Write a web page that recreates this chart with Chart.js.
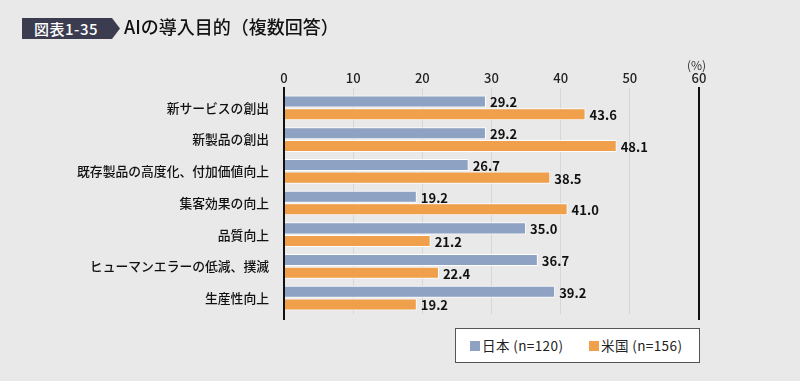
<!DOCTYPE html>
<html lang="ja">
<head>
    <meta charset="UTF-8">
    <title>AIの導入目的</title>
    <script src="https://cdn.jsdelivr.net/npm/chart.js"></script>
    <style>
        html, body {
            margin: 0;
            padding: 0;
            width: 800px;
            height: 381px;
            background: #e9e9e9;
            font-family: "Noto Sans CJK JP", "Noto Sans", sans-serif;
            overflow: hidden;
        }
        .wrap {
            position: relative;
            width: 800px;
            height: 381px;
        }
        #chart {
            position: absolute;
            left: 0;
            top: 0;
        }
        .badge {
            position: absolute;
            left: 22px;
            top: 18px;
            height: 21px;
            width: 98px;
            background: #3b3c50;
            color: #fff;
            font-size: 15px;
            font-weight: 500;
            line-height: 21px;
            padding-left: 12px;
            letter-spacing: 0.5px;
            box-sizing: border-box;
            clip-path: polygon(0 0, 90px 0, 98px 50%, 90px 100%, 0 100%);
        }
        .title {
            position: absolute;
            left: 124px;
            top: 13px;
            font-size: 18px;
            font-weight: 500;
            color: #111;
        }
        .unit {
            position: absolute;
            left: 687px;
            top: 56px;
            font-size: 12px;
            color: #333;
        }
        .legend {
            position: absolute;
            left: 455px;
            top: 328px;
            width: 245px;
            height: 35px;
            box-sizing: border-box;
            background: #fff;
            border: 1px solid #555;
            font-size: 13.5px;
            color: #222;
            letter-spacing: 0.4px;
        }
        .legend span.sw {
            position: absolute;
            top: 12px;
            width: 10px;
            height: 10px;
        }
        .legend span.tx {
            position: absolute;
            top: 7px;
            line-height: 18px;
        }
    </style>
</head>
<body>
<div class="wrap">
    <canvas id="chart" width="800" height="381"></canvas>
    <div class="badge">図表1-35</div>
    <div class="title">AIの導入目的（複数回答）</div>
    <div class="unit">(%)</div>
    <div class="legend">
        <span class="sw" style="left:14px;background:#8ea3c3"></span>
        <span class="tx" style="left:26px">日本 (n=120)</span>
        <span class="sw" style="left:133px;background:#f0a04a"></span>
        <span class="tx" style="left:145px">米国 (n=156)</span>
    </div>
</div>

<script>
    // data
    const categories = ['新サービスの創出', '新製品の創出', '既存製品の高度化、付加価値向上',
        '集客効果の向上', '品質向上', 'ヒューマンエラーの低減、撲滅', '生産性向上'];
    const japan = [29.2, 29.2, 26.7, 19.2, 35.0, 36.7, 39.2];
    const usa = [43.6, 48.1, 38.5, 41.0, 21.2, 22.4, 19.2];
    const tickValues = [0, 10, 20, 30, 40, 50, 60];

    const blue = '#8ea3c3';
    const orange = '#f0a04a';

    // value labels at the end of each bar
    const valueLabels = {
        id: 'valueLabels',
        afterDatasetsDraw(chart) {
            const ctx = chart.ctx;
            ctx.save();
            ctx.font = 'bold 13px "Noto Sans CJK JP", "Noto Sans", sans-serif';
            ctx.fillStyle = '#111';
            ctx.textBaseline = 'middle';
            ctx.textAlign = 'left';
            chart.data.datasets.forEach((ds, i) => {
                chart.getDatasetMeta(i).data.forEach((bar, j) => {
                    ctx.fillText(ds.data[j].toFixed(1), bar.x + 4, bar.y + 1);
                });
            });
            ctx.restore();
        }
    };

    // black lines at 0 and 60, a bit longer than the plot area
    const frameLines = {
        id: 'frameLines',
        afterDatasetsDraw(chart) {
            const ctx = chart.ctx;
            const x = chart.scales.x;
            const area = chart.chartArea;
            ctx.save();
            ctx.strokeStyle = '#111';
            ctx.lineWidth = 2;
            [0, 60].forEach(v => {
                const px = Math.round(x.getPixelForValue(v));
                ctx.beginPath();
                ctx.moveTo(px, area.top - 5);
                ctx.lineTo(px, area.bottom + 6);
                ctx.stroke();
            });
            ctx.restore();
        }
    };

    new Chart(document.getElementById('chart'), {
        type: 'bar',
        data: {
            labels: categories,
            datasets: [{
                label: '日本 (n=120)',
                data: japan,
                backgroundColor: blue,
                borderColor: '#ffffff',
                borderWidth: 1,
                borderSkipped: 'start',
                barPercentage: 0.95,
                categoryPercentage: 0.8
            }, {
                label: '米国 (n=156)',
                data: usa,
                backgroundColor: orange,
                borderColor: '#ffffff',
                borderWidth: 1,
                borderSkipped: 'start',
                barPercentage: 0.95,
                categoryPercentage: 0.8
            }]
        },
        options: {
            indexAxis: 'y',
            responsive: false,
            animation: false,
            layout: {
                padding: { left: 0, right: 101, top: 66, bottom: 67 }
            },
            plugins: {
                legend: { display: false },
                tooltip: { enabled: false }
            },
            scales: {
                x: {
                    position: 'top',
                    min: 0,
                    max: 60,
                    afterBuildTicks(scale) {
                        scale.ticks = tickValues.map(v => ({ value: v }));
                    },
                    afterFit(scale) {
                        scale.height = 26;
                    },
                    border: { display: false },
                    grid: {
                        color: ctx => (ctx.tick && (ctx.tick.value === 0 || ctx.tick.value === 60)) ? 'rgba(0,0,0,0)' : '#d6d6d6',
                        tickLength: 4
                    },
                    ticks: {
                        color: '#222',
                        padding: 2,
                        font: { size: 13, weight: '500', family: '"Noto Sans CJK JP", "Noto Sans", sans-serif' }
                    }
                },
                y: {
                    afterFit(scale) {
                        scale.width = 284;
                    },
                    border: { display: false },
                    grid: { display: false },
                    ticks: {
                        color: '#111',
                        padding: 7,
                        font: { size: 12.8, weight: '500', family: '"Noto Sans CJK JP", "Noto Sans", sans-serif' }
                    }
                }
            }
        },
        plugins: [valueLabels, frameLines]
    });
</script>
</body>
</html>
